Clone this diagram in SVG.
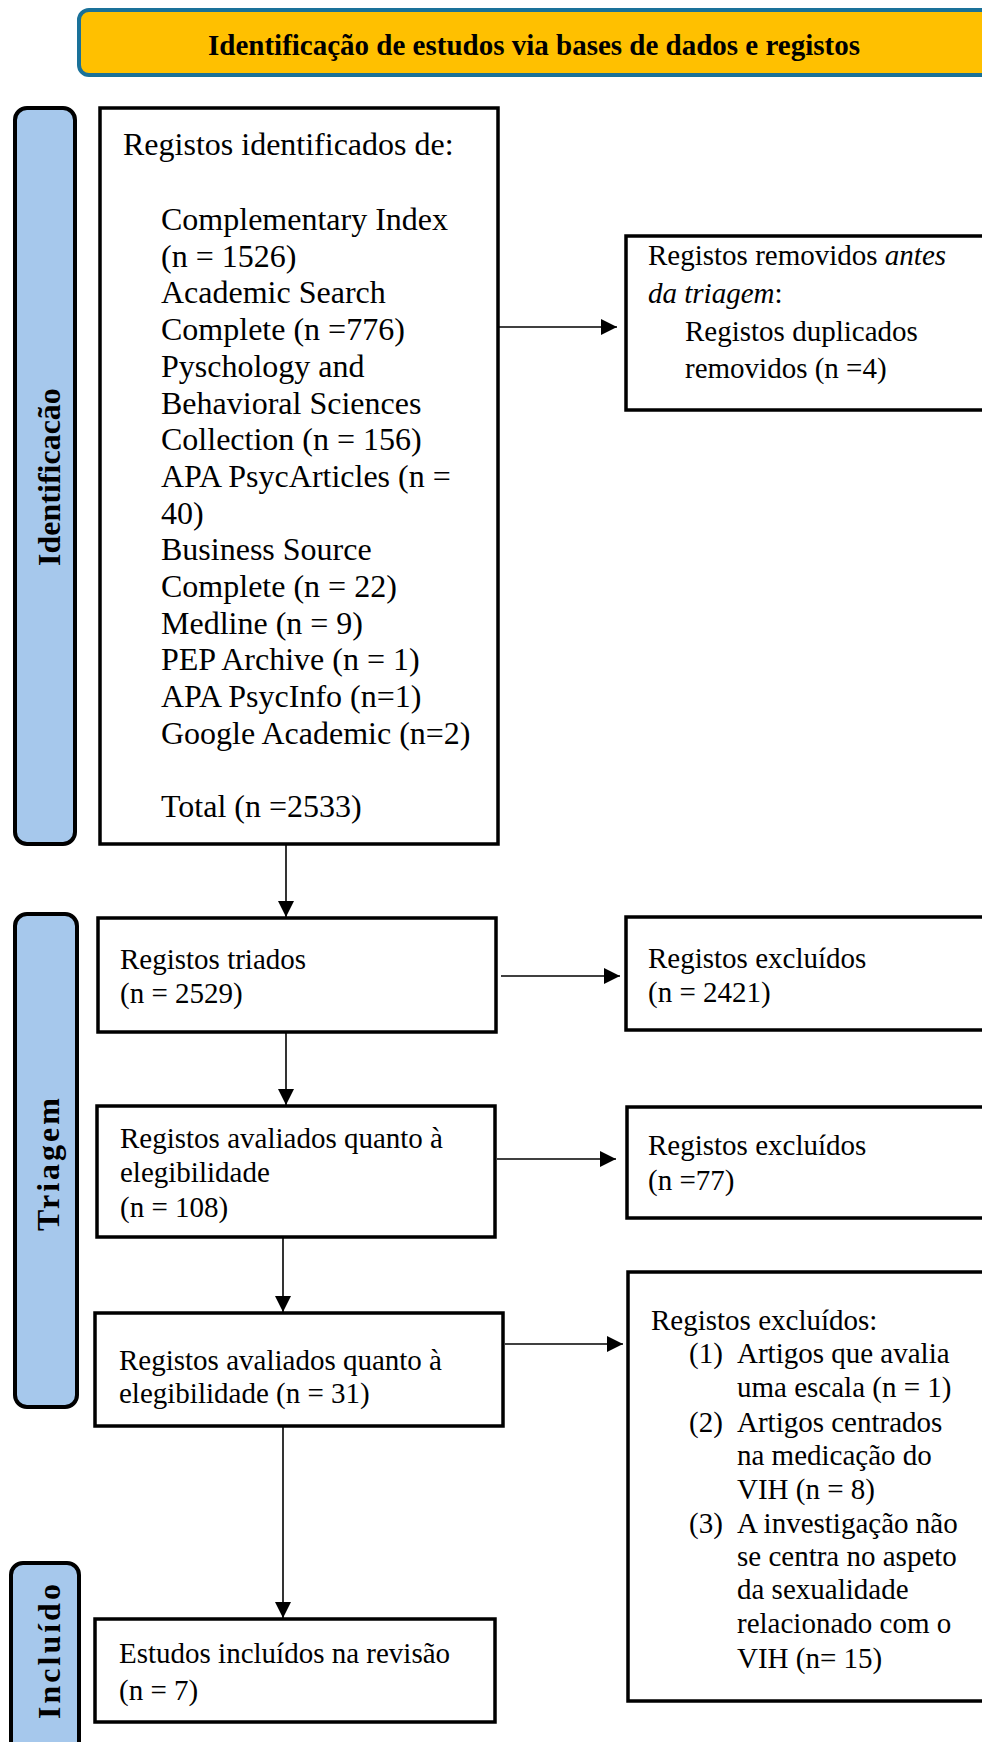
<svg xmlns="http://www.w3.org/2000/svg" width="982" height="1742" viewBox="0 0 982 1742">
<style>
.box{fill:#fff;stroke:#000;stroke-width:3.5}
.lane{fill:#A6C8EC;stroke:#000;stroke-width:4}
.lbl{font-family:"Liberation Serif","Times New Roman",serif;font-weight:bold;font-size:32px;fill:#000}
.t32{font-family:"Liberation Serif","Times New Roman",serif;font-size:32px;fill:#000}
.t29{font-family:"Liberation Serif","Times New Roman",serif;font-size:29px;fill:#000}
.con{stroke:#000;stroke-width:1.6;fill:none;marker-end:url(#ah)}
</style>
<defs>
<marker id="ah" markerUnits="userSpaceOnUse" markerWidth="18" markerHeight="16" refX="16" refY="8" orient="auto">
<path d="M0,0 L16,8 L0,16 z" fill="#000"/>
</marker>
</defs>
<rect width="982" height="1742" fill="#fff"/>

<g id="header">
<rect x="79" y="10" width="930" height="65" rx="10" fill="#FFC000" stroke="#1A7199" stroke-width="4"/>
<text x="534" y="55" text-anchor="middle" class="t29" font-weight="bold">Identificação de estudos via bases de dados e registos</text>
</g>

<g id="lane-identificacao">
<rect class="lane" x="15" y="108" width="60" height="736" rx="12"/>
<text class="lbl" font-size="33" text-anchor="middle" transform="translate(60,477) rotate(-90)">Identificacão</text>
</g>
<g id="lane-triagem">
<rect class="lane" x="15" y="914" width="62" height="493" rx="12"/>
<text class="lbl" text-anchor="middle" letter-spacing="3" transform="translate(59,1163) rotate(-90)">Triagem</text>
</g>
<g id="lane-incluido">
<rect class="lane" x="11" y="1563" width="68" height="220" rx="12"/>
<text class="lbl" text-anchor="middle" letter-spacing="3" transform="translate(60,1650) rotate(-90)">Incluído</text>
</g>

<g id="n-identificados">
<rect class="box" x="100" y="108" width="398" height="736"/>
<text class="t32" x="123" y="155">Registos identificados de:</text>
<text class="t32" x="161" y="230">Complementary Index</text>
<text class="t32" x="161" y="266.7">(n = 1526)</text>
<text class="t32" x="161" y="303.4">Academic Search</text>
<text class="t32" x="161" y="340.1">Complete (n =776)</text>
<text class="t32" x="161" y="376.8">Pyschology and</text>
<text class="t32" x="161" y="413.5">Behavioral Sciences</text>
<text class="t32" x="161" y="450.2">Collection (n = 156)</text>
<text class="t32" x="161" y="486.9">APA PsycArticles (n =</text>
<text class="t32" x="161" y="523.6">40)</text>
<text class="t32" x="161" y="560.3">Business Source</text>
<text class="t32" x="161" y="597">Complete (n = 22)</text>
<text class="t32" x="161" y="633.7">Medline (n = 9)</text>
<text class="t32" x="161" y="670.4">PEP Archive (n = 1)</text>
<text class="t32" x="161" y="707.1">APA PsycInfo (n=1)</text>
<text class="t32" x="161" y="743.8">Google Academic (n=2)</text>
<text class="t32" x="161" y="817.2">Total (n =2533)</text>
</g>

<g id="n-removidos">
<rect class="box" x="626" y="236" width="380" height="174"/>
<text class="t29" x="648" y="265">Registos removidos <tspan font-style="italic">antes</tspan></text>
<text class="t29" x="648" y="303"><tspan font-style="italic">da triagem</tspan>:</text>
<text class="t29" x="685" y="341">Registos duplicados</text>
<text class="t29" x="685" y="378">removidos (n =4)</text>
</g>

<g id="n-triados">
<rect class="box" x="98" y="918" width="398" height="114"/>
<text class="t29" x="120" y="969">Registos triados</text>
<text class="t29" x="120" y="1003">(n = 2529)</text>
</g>
<g id="n-excl1">
<rect class="box" x="626" y="917" width="380" height="113"/>
<text class="t29" x="648" y="968">Registos excluídos</text>
<text class="t29" x="648" y="1002">(n = 2421)</text>
</g>

<g id="n-avaliados1">
<rect class="box" x="97" y="1106" width="398" height="131"/>
<text class="t29" x="120" y="1148">Registos avaliados quanto à</text>
<text class="t29" x="120" y="1182">elegibilidade</text>
<text class="t29" x="120" y="1217">(n = 108)</text>
</g>
<g id="n-excl2">
<rect class="box" x="627" y="1107" width="380" height="111"/>
<text class="t29" x="648" y="1155">Registos excluídos</text>
<text class="t29" x="648" y="1190">(n =77)</text>
</g>

<g id="n-avaliados2">
<rect class="box" x="95" y="1313" width="408" height="113"/>
<text class="t29" x="119" y="1370">Registos avaliados quanto à</text>
<text class="t29" x="119" y="1403">elegibilidade (n = 31)</text>
</g>
<g id="n-excl3">
<rect class="box" x="628" y="1272" width="380" height="429"/>
<text class="t29" x="651" y="1330">Registos excluídos:</text>
<text class="t29" x="689" y="1363">(1)</text>
<text class="t29" x="737" y="1363">Artigos que avalia</text>
<text class="t29" x="737" y="1397">uma escala (n = 1)</text>
<text class="t29" x="689" y="1432">(2)</text>
<text class="t29" x="737" y="1432">Artigos centrados</text>
<text class="t29" x="737" y="1465">na medicação do</text>
<text class="t29" x="737" y="1499">VIH (n = 8)</text>
<text class="t29" x="689" y="1533">(3)</text>
<text class="t29" x="737" y="1533">A investigação não</text>
<text class="t29" x="737" y="1566">se centra no aspeto</text>
<text class="t29" x="737" y="1599">da sexualidade</text>
<text class="t29" x="737" y="1633">relacionado com o</text>
<text class="t29" x="737" y="1668">VIH (n= 15)</text>
</g>

<g id="n-incluidos">
<rect class="box" x="95" y="1619" width="400" height="103"/>
<text class="t29" x="119" y="1663">Estudos incluídos na revisão</text>
<text class="t29" x="119" y="1700">(n = 7)</text>
</g>

<g id="connectors">
<line class="con" x1="498" y1="327" x2="617" y2="327"/>
<line class="con" x1="286" y1="844" x2="286" y2="917"/>
<line class="con" x1="501" y1="976" x2="620" y2="976"/>
<line class="con" x1="286" y1="1032" x2="286" y2="1105"/>
<line class="con" x1="497" y1="1159" x2="616" y2="1159"/>
<line class="con" x1="283" y1="1237" x2="283" y2="1312"/>
<line class="con" x1="505" y1="1344" x2="623" y2="1344"/>
<line class="con" x1="283" y1="1426" x2="283" y2="1618"/>
</g>
</svg>
